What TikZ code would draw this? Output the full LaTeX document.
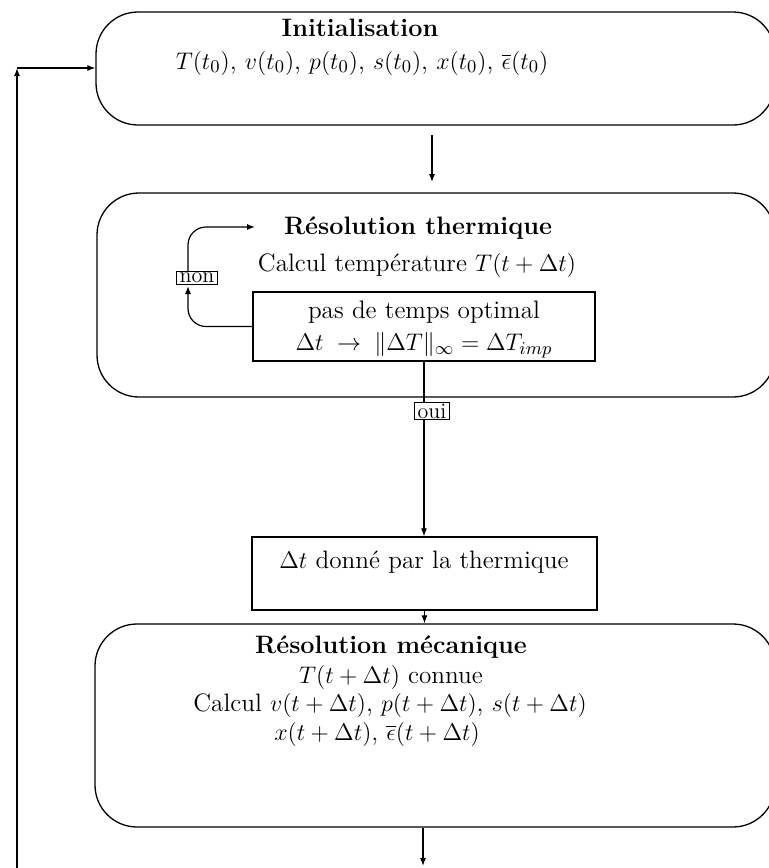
\documentclass[tikz,border=0pt]{standalone}
\usetikzlibrary{arrows.meta}
\begin{document}
\begin{tikzpicture}[x=0.5pt,y=-0.5pt,
  rbox/.style={draw, line width=0.65pt, rounded corners=21pt, inner sep=0pt},
  sbox/.style={draw, line width=0.65pt, inner sep=0pt},
  txt/.style={inner sep=0pt, font=\fontsize{12.6}{14}\selectfont},
  ttl/.style={inner sep=0pt, font=\fontsize{12.6}{14}\selectfont\bfseries},
  lbl/.style={draw, fill=white, line width=0.6pt, inner xsep=1.5pt, inner ysep=0.8pt, font=\fontsize{11}{12}\selectfont},
  arr/.style={line width=0.6pt, -{Latex[length=4pt,width=3pt]}},
  ln/.style={line width=0.6pt}]
\useasboundingbox (0,0) rectangle (768,868);
% Initialisation
\node[rbox, minimum width=339.5pt, minimum height=56.5pt] (init) at (435.5,68.5) {};
\node[ttl] (initT) at (360,28) {Initialisation};
\node[txt] (initF) at (362,63) {$T(t_0)$, $v(t_0)$, $p(t_0)$, $s(t_0)$, $x(t_0)$, $\overline{\epsilon}(t_0)$};
% Thermal
\node[rbox, minimum width=339pt, minimum height=102pt] (therm) at (436,295) {};
\node[ttl] (thT) at (418,228) {Résolution thermique};
\node[txt] (thC) at (417,265) {Calcul température $T(t+\Delta t)$};
\node[sbox, minimum width=171pt, minimum height=34.5pt] (opt) at (424,326.5) {};
\node[txt] (opt1) at (424,312) {pas de temps optimal};
\node[txt] (opt2) at (424,345) {$\Delta t \;\rightarrow\; \|\Delta T\|_\infty = \Delta T_{imp}$};
% dt box
\node[sbox, minimum width=172.5pt, minimum height=36.5pt] (dt) at (424.5,573.5) {};
\node[txt] (dtT) at (424,562) {$\Delta t$ donné par la thermique};
% Mechanics
\node[rbox, minimum width=340pt, minimum height=101.5pt] (mech) at (435,725.5) {};
\node[ttl] (meT) at (391,647) {Résolution mécanique};
\node[txt] (me1) at (391,677) {$T(t+\Delta t)$ connue};
\node[txt] (me2) at (390,705) {Calcul $v(t+\Delta t)$, $p(t+\Delta t)$, $s(t+\Delta t)$};
\node[txt] (me3) at (377,734) {$x(t+\Delta t)$, $\overline{\epsilon}(t+\Delta t)$};
% coordinates
\coordinate (a1) at (432,135);
\coordinate (a2) at (432,182);
\coordinate (nonB) at (188,286);
\coordinate (nonT) at (188,272);
\coordinate (thIn) at (255,227);
\coordinate (bot) at (423,866);
\coordinate (lb) at (17,868);
\coordinate (lc) at (17,68);
% connectors
\draw[arr] (a1) -- (a2);
\draw[arr, rounded corners=9pt] (opt.west) -| (nonB);
\draw[arr, rounded corners=9pt] (nonT) |- (thIn);
\draw[ln] (opt.south) -- (opt.south |- 0,411);
\draw[arr] (opt.south |- 0,411) -- (dt.north -| opt.south);
\node[lbl] (non) at (197,278) {non};
\node[lbl] (oui) at (432,411) {oui};
\draw[arr] (dt.south) -- (dt.south |- mech.north);
\draw[arr] (mech.south -| bot) -- (bot);
\draw[arr] (lb) -- (lc);
\draw[arr] (lc) -- (lc -| init.west);
\end{tikzpicture}
\end{document}
